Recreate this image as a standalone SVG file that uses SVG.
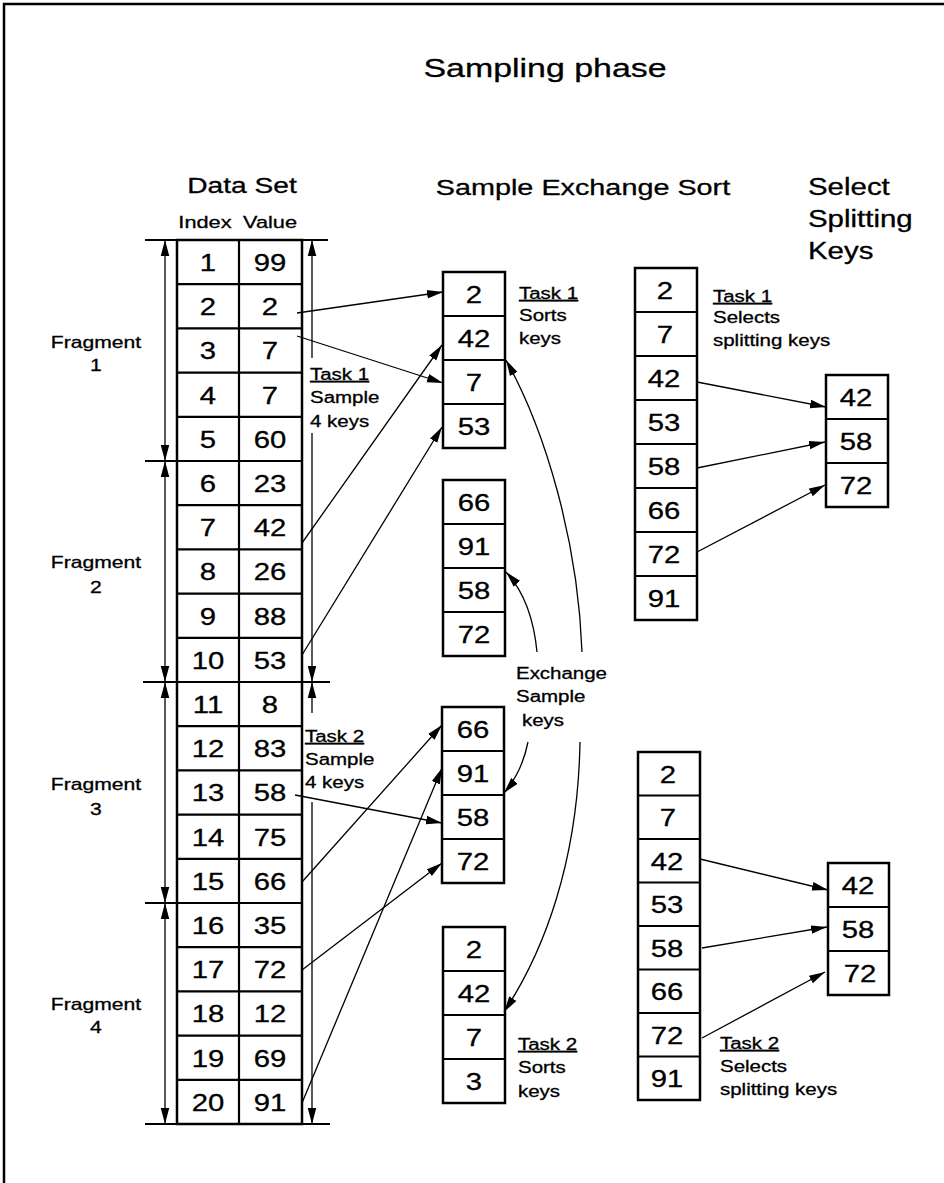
<svg xmlns="http://www.w3.org/2000/svg" width="944" height="1183" viewBox="0 0 944 1183">
<defs>
<marker id="ah" markerUnits="userSpaceOnUse" markerWidth="16" markerHeight="10" viewBox="0 0 15 8" refX="15" refY="4" orient="auto-start-reverse"><path d="M0,0 L15,4 L0,8 z" fill="#000"/></marker>
</defs>
<style>
text{font-family:"Liberation Sans",Arial,Helvetica,sans-serif;fill:#000;stroke:#000;stroke-width:0.3;transform-box:fill-box;}
.c{text-anchor:middle;transform-origin:center;transform:scaleX(1.28);}
.l{text-anchor:start;transform-origin:left center;transform:scaleX(1.28);}
.n text{font-size:24px;text-anchor:middle;transform-origin:center;transform:scaleX(1.22);}
.s{font-size:16px;}
.f{font-size:16.5px;}
.u{text-decoration:underline;}
.box{fill:#fff;stroke:#000;stroke-width:2.5;}
.rl{stroke:#000;stroke-width:2.2;fill:none;}
.cn{stroke:#000;stroke-width:1.3;fill:none;marker-end:url(#ah);}
.dim{stroke:#000;stroke-width:1.3;fill:none;}
.hl{stroke:#000;stroke-width:2;}
</style>
<rect width="944" height="1183" fill="#fff"/>
<path d="M4,1183 V4 H944" fill="none" stroke="#000" stroke-width="2.5"/>

<g id="title"><text class="c" x="545" y="77" font-size="26.5">Sampling phase</text></g>
<g id="hdr-dataset">
<text class="c" x="242" y="193" font-size="22">Data Set</text>
<text class="c" x="205" y="228" font-size="17">Index</text>
<text class="c" x="270" y="228" font-size="17">Value</text>
</g>
<g id="hdr-exchange"><text class="c" x="583" y="195" font-size="22.5">Sample Exchange Sort</text></g>
<g id="hdr-select">
<text class="l" x="808" y="195" font-size="23">Select</text>
<text class="l" x="808" y="227" font-size="23">Splitting</text>
<text class="l" x="808" y="259" font-size="23">Keys</text>
</g>

<g id="fragments">
<line class="hl" x1="145" y1="240" x2="328" y2="240"/>
<line class="hl" x1="145" y1="461" x2="177" y2="461"/>
<line class="hl" x1="143" y1="682" x2="330" y2="682"/>
<line class="hl" x1="145" y1="903" x2="177" y2="903"/>
<line class="hl" x1="145" y1="1124" x2="330" y2="1124"/>
<line class="dim" x1="165" y1="240" x2="165" y2="461" marker-start="url(#ah)" marker-end="url(#ah)"/>
<line class="dim" x1="165" y1="461" x2="165" y2="682" marker-start="url(#ah)" marker-end="url(#ah)"/>
<line class="dim" x1="165" y1="682" x2="165" y2="903" marker-start="url(#ah)" marker-end="url(#ah)"/>
<line class="dim" x1="165" y1="903" x2="165" y2="1124" marker-start="url(#ah)" marker-end="url(#ah)"/>
<line class="dim" x1="312" y1="358" x2="312" y2="240" marker-end="url(#ah)"/>
<line class="dim" x1="312" y1="433" x2="312" y2="682" marker-end="url(#ah)"/>
<line class="dim" x1="312" y1="713" x2="312" y2="682" marker-end="url(#ah)"/>
<line class="dim" x1="312" y1="802" x2="312" y2="1124" marker-end="url(#ah)"/>
<text class="c f" x="96" y="348">Fragment</text><text class="c f" x="96" y="371">1</text>
<text class="c f" x="96" y="568">Fragment</text><text class="c f" x="96" y="593">2</text>
<text class="c f" x="96" y="790">Fragment</text><text class="c f" x="96" y="815">3</text>
<text class="c f" x="96" y="1010">Fragment</text><text class="c f" x="96" y="1033">4</text>
</g>

<g id="dataset">
<rect class="box" x="177" y="240" width="125" height="884"/>
<path class="rl" d="M239,240 V1124 M177,284.2 H302 M177,328.4 H302 M177,372.6 H302 M177,416.8 H302 M177,461 H302 M177,505.2 H302 M177,549.4 H302 M177,593.6 H302 M177,637.8 H302 M177,682 H302 M177,726.2 H302 M177,770.4 H302 M177,814.6 H302 M177,858.8 H302 M177,903 H302 M177,947.2 H302 M177,991.4 H302 M177,1035.6 H302 M177,1079.8 H302"/>
<g class="n">
<text x="208" y="271">1</text><text x="270" y="271">99</text>
<text x="208" y="315.2">2</text><text x="270" y="315.2">2</text>
<text x="208" y="359.4">3</text><text x="270" y="359.4">7</text>
<text x="208" y="403.6">4</text><text x="270" y="403.6">7</text>
<text x="208" y="447.8">5</text><text x="270" y="447.8">60</text>
<text x="208" y="492">6</text><text x="270" y="492">23</text>
<text x="208" y="536.2">7</text><text x="270" y="536.2">42</text>
<text x="208" y="580.4">8</text><text x="270" y="580.4">26</text>
<text x="208" y="624.6">9</text><text x="270" y="624.6">88</text>
<text x="208" y="668.8">10</text><text x="270" y="668.8">53</text>
<text x="208" y="713">11</text><text x="270" y="713">8</text>
<text x="208" y="757.2">12</text><text x="270" y="757.2">83</text>
<text x="208" y="801.4">13</text><text x="270" y="801.4">58</text>
<text x="208" y="845.6">14</text><text x="270" y="845.6">75</text>
<text x="208" y="889.8">15</text><text x="270" y="889.8">66</text>
<text x="208" y="934">16</text><text x="270" y="934">35</text>
<text x="208" y="978.2">17</text><text x="270" y="978.2">72</text>
<text x="208" y="1022.4">18</text><text x="270" y="1022.4">12</text>
<text x="208" y="1066.6">19</text><text x="270" y="1066.6">69</text>
<text x="208" y="1110.8">20</text><text x="270" y="1110.8">91</text>
</g>
</g>

<g id="task1-sample-label">
<text class="l s u" x="310" y="380">Task 1</text>
<text class="l s" x="310" y="403">Sample</text>
<text class="l s" x="310" y="427">4 keys</text>
</g>
<g id="task2-sample-label">
<text class="l s u" x="305" y="742">Task 2</text>
<text class="l s" x="305" y="765">Sample</text>
<text class="l s" x="305" y="788">4 keys</text>
</g>

<g id="sort-box-1">
<rect class="box" x="443" y="272" width="62" height="176"/>
<path class="rl" d="M443,316 H505 M443,360 H505 M443,404 H505"/>
<g class="n"><text x="474" y="303">2</text><text x="474" y="347">42</text><text x="474" y="391">7</text><text x="474" y="435">53</text></g>
</g>
<g id="sort-box-2">
<rect class="box" x="443" y="480" width="62" height="176"/>
<path class="rl" d="M443,524 H505 M443,568 H505 M443,612 H505"/>
<g class="n"><text x="474" y="511">66</text><text x="474" y="555">91</text><text x="474" y="599">58</text><text x="474" y="643">72</text></g>
</g>
<g id="sort-box-3">
<rect class="box" x="442" y="707" width="62" height="176"/>
<path class="rl" d="M442,751 H504 M442,795 H504 M442,839 H504"/>
<g class="n"><text x="473" y="738">66</text><text x="473" y="782">91</text><text x="473" y="826">58</text><text x="473" y="870">72</text></g>
</g>
<g id="sort-box-4">
<rect class="box" x="443" y="927" width="62" height="176"/>
<path class="rl" d="M443,971 H505 M443,1015 H505 M443,1059 H505"/>
<g class="n"><text x="474" y="958">2</text><text x="474" y="1002">42</text><text x="474" y="1046">7</text><text x="474" y="1090">3</text></g>
</g>
<g id="task1-sorts-label">
<text class="l s u" x="519" y="299">Task 1</text>
<text class="l s" x="519" y="321">Sorts</text>
<text class="l s" x="519" y="344">keys</text>
</g>
<g id="task2-sorts-label">
<text class="l s u" x="518" y="1050">Task 2</text>
<text class="l s" x="518" y="1073">Sorts</text>
<text class="l s" x="518" y="1097">keys</text>
</g>
<g id="exchange-label">
<text class="l s" x="516" y="679">Exchange</text>
<text class="l s" x="516" y="702">Sample</text>
<text class="l s" x="522" y="726">keys</text>
</g>

<g id="all-keys-1">
<rect class="box" x="635" y="268" width="62" height="352"/>
<path class="rl" d="M635,312 H697 M635,356 H697 M635,400 H697 M635,444 H697 M635,488 H697 M635,532 H697 M635,576 H697"/>
<g class="n"><text x="665" y="299">2</text><text x="665" y="343">7</text><text x="664" y="387">42</text><text x="664" y="431">53</text><text x="664" y="475">58</text><text x="664" y="519">66</text><text x="664" y="563">72</text><text x="664" y="607">91</text></g>
</g>
<g id="split-keys-1">
<rect class="box" x="826" y="375" width="62" height="132"/>
<path class="rl" d="M826,419 H888 M826,463 H888"/>
<g class="n"><text x="856" y="406">42</text><text x="856" y="450">58</text><text x="856" y="494">72</text></g>
</g>
<g id="task1-select-label">
<text class="l s u" x="713" y="302">Task 1</text>
<text class="l s" x="713" y="323">Selects</text>
<text class="l s" x="713" y="346">splitting keys</text>
</g>

<g id="all-keys-2">
<rect class="box" x="638" y="752" width="62" height="348"/>
<path class="rl" d="M638,795.5 H700 M638,839 H700 M638,882.5 H700 M638,926 H700 M638,969.5 H700 M638,1013 H700 M638,1056.5 H700"/>
<g class="n"><text x="668" y="783">2</text><text x="668" y="826.5">7</text><text x="667" y="870">42</text><text x="667" y="913.5">53</text><text x="667" y="957">58</text><text x="667" y="1000.5">66</text><text x="667" y="1044">72</text><text x="667" y="1087.5">91</text></g>
</g>
<g id="split-keys-2">
<rect class="box" x="828" y="863" width="61" height="132"/>
<path class="rl" d="M828,907 H889 M828,951 H889"/>
<g class="n"><text x="858" y="894">42</text><text x="858" y="938">58</text><text x="860" y="982">72</text></g>
</g>
<g id="task2-select-label">
<text class="l s u" x="720" y="1049">Task 2</text>
<text class="l s" x="720" y="1072">Selects</text>
<text class="l s" x="720" y="1095">splitting keys</text>
</g>

<g id="connectors">
<line class="cn" x1="297" y1="313" x2="443" y2="292"/>
<line class="cn" x1="297" y1="336" x2="443" y2="383"/>
<line class="cn" x1="302" y1="543" x2="442" y2="345"/>
<line class="cn" x1="302" y1="655" x2="442" y2="427"/>
<line class="cn" x1="302" y1="882" x2="442" y2="725"/>
<line class="cn" x1="295" y1="795" x2="442" y2="823"/>
<line class="cn" x1="302" y1="970" x2="442" y2="863"/>
<line class="cn" x1="302" y1="1103" x2="442" y2="768"/>
<path class="cn" d="M537,652 Q532,600 506,572"/>
<path class="cn" d="M582,652 C578,540 545,430 506,360"/>
<path class="cn" d="M528,742 Q522,772 504,793"/>
<path class="cn" d="M580,742 C578,860 545,950 504,1012"/>
<line class="cn" x1="697" y1="382" x2="826" y2="407"/>
<line class="cn" x1="697" y1="468" x2="825" y2="442"/>
<line class="cn" x1="697" y1="552" x2="825" y2="485"/>
<line class="cn" x1="700" y1="859" x2="828" y2="890"/>
<line class="cn" x1="702" y1="948" x2="827" y2="927"/>
<line class="cn" x1="702" y1="1038" x2="825" y2="972"/>
</g>
</svg>
